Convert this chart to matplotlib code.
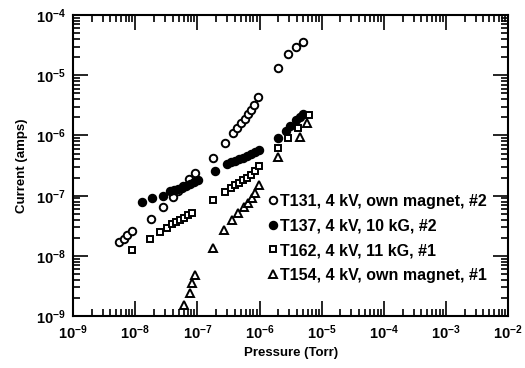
import numpy as np
import matplotlib
matplotlib.use("Agg")
import matplotlib.pyplot as plt
from matplotlib.ticker import LogLocator, FuncFormatter, NullFormatter

plt.rcParams['font.family'] = ['Liberation Sans', 'DejaVu Sans']
plt.rcParams['mathtext.fontset'] = 'custom'
plt.rcParams['mathtext.rm'] = 'Liberation Sans'
plt.rcParams['mathtext.bf'] = 'Liberation Sans:bold'

# T131, 4 kV, own magnet, #2 (open circles)
p131 = [5.6e-9, 6.5e-9, 7.5e-9, 9.0e-9, 1.78e-8, 2.84e-8, 4.1e-8, 4.9e-8, 5.9e-8,
        7.4e-8, 9.2e-8, 1.82e-7, 2.8e-7, 3.7e-7, 4.4e-7, 5.1e-7, 5.9e-7, 6.6e-7,
        7.3e-7, 8.2e-7, 9.6e-7, 2.0e-6, 2.9e-6, 3.8e-6, 5.1e-6]
i131 = [1.71e-8, 1.88e-8, 2.19e-8, 2.58e-8, 4.1e-8, 6.5e-8, 9.6e-8, 1.19e-7, 1.44e-7,
        1.89e-7, 2.37e-7, 4.3e-7, 7.6e-7, 1.11e-6, 1.31e-6, 1.63e-6, 1.87e-6, 2.24e-6,
        2.64e-6, 3.2e-6, 4.4e-6, 1.3e-5, 2.3e-5, 3.0e-5, 3.6e-5]

# T137, 4 kV, 10 kG, #2 (filled circles)
p137 = [1.31e-8, 1.85e-8, 2.76e-8, 3.65e-8, 4.2e-8, 4.9e-8, 5.7e-8, 6.6e-8, 7.7e-8,
        8.9e-8, 1.03e-7, 1.94e-7, 3.0e-7, 3.5e-7, 4.1e-7, 4.7e-7, 5.5e-7, 6.3e-7,
        7.4e-7, 8.5e-7, 9.7e-7, 1.95e-6, 2.7e-6, 3.1e-6, 3.8e-6, 4.4e-6, 5.1e-6]
i137 = [7.9e-8, 9.1e-8, 9.7e-8, 1.19e-7, 1.24e-7, 1.29e-7, 1.36e-7, 1.44e-7, 1.56e-7,
        1.68e-7, 1.82e-7, 2.6e-7, 3.4e-7, 3.6e-7, 3.8e-7, 4.1e-7, 4.3e-7, 4.6e-7,
        4.9e-7, 5.3e-7, 5.7e-7, 9.0e-7, 1.2e-6, 1.45e-6, 1.8e-6, 2.05e-6, 2.3e-6]

# T162, 4 kV, 11 kG, #1 (open squares)
p162 = [8.8e-9, 1.74e-8, 2.52e-8, 3.3e-8, 3.9e-8, 4.6e-8, 5.3e-8, 6.1e-8, 7.1e-8,
        8.2e-8, 1.76e-7, 2.75e-7, 3.5e-7, 4.1e-7, 4.7e-7, 5.5e-7, 6.3e-7, 7.4e-7,
        8.5e-7, 9.7e-7, 1.95e-6, 2.9e-6, 4.2e-6, 6.3e-6]
i162 = [1.25e-8, 1.88e-8, 2.45e-8, 2.86e-8, 3.4e-8, 3.6e-8, 3.9e-8, 4.25e-8, 4.8e-8,
        5.1e-8, 8.5e-8, 1.15e-7, 1.36e-7, 1.5e-7, 1.65e-7, 1.82e-7, 2.0e-7, 2.24e-7,
        2.56e-7, 3.1e-7, 6.1e-7, 9.0e-7, 1.33e-6, 2.2e-6]

# T154, 4 kV, own magnet, #1 (open triangles)
p154 = [6.1e-8, 7.7e-8, 8.3e-8, 9.2e-8, 1.82e-7, 2.65e-7, 3.6e-7, 4.5e-7, 5.7e-7,
        6.6e-7, 7.5e-7, 8.5e-7, 9.9e-7, 2.0e-6, 4.5e-6, 5.8e-6]
i154 = [1.52e-9, 2.44e-9, 3.5e-9, 4.9e-9, 1.37e-8, 2.74e-8, 3.9e-8, 5.1e-8, 6.4e-8,
        7.6e-8, 9.2e-8, 1.12e-7, 1.5e-7, 4.4e-7, 9.5e-7, 1.59e-6]

labels = ['T131, 4 kV, own magnet, #2', 'T137, 4 kV, 10 kG, #2',
          'T162, 4 kV, 11 kG, #1', 'T154, 4 kV, own magnet, #1']

fig = plt.figure(figsize=(5.25, 3.68), dpi=100)
ax = fig.add_axes([0.139, 0.141, 0.829, 0.818])

ms = 5.4
ax.plot(p131, i131, 'o', ms=ms, mfc='white', mec='black', mew=1.4, label=labels[0])
ax.plot(p137, i137, 'o', ms=ms, mfc='black', mec='black', mew=1.4, label=labels[1])
ax.plot(p162, i162, 's', ms=ms - 0.4, mfc='white', mec='black', mew=1.4, label=labels[2])
ax.plot(p154, i154, '^', ms=ms, mfc='white', mec='black', mew=1.4, label=labels[3])

ax.set_xscale('log')
ax.set_yscale('log')
ax.set_xlim(1e-9, 1e-2)
ax.set_ylim(1e-9, 1e-4)

fmt = FuncFormatter(lambda v, pos: r'$\mathbf{10^{%d}}$' % int(round(np.log10(v))))
ax.xaxis.set_major_locator(LogLocator(base=10, numticks=20))
ax.yaxis.set_major_locator(LogLocator(base=10, numticks=20))
ax.xaxis.set_minor_locator(LogLocator(base=10, subs=np.arange(2, 10), numticks=20))
ax.yaxis.set_minor_locator(LogLocator(base=10, subs=np.arange(2, 10), numticks=20))
ax.xaxis.set_major_formatter(fmt)
ax.yaxis.set_major_formatter(fmt)
ax.xaxis.set_minor_formatter(NullFormatter())
ax.yaxis.set_minor_formatter(NullFormatter())
ax.tick_params(which='both', direction='in', top=True, right=True, width=1.2, labelsize=10.5)
ax.tick_params(which='major', length=11, pad=5)
ax.tick_params(which='minor', length=5)
for s in ax.spines.values():
    s.set_linewidth(1.5)

ax.set_xlabel('Pressure (Torr)', fontsize=9.5, fontweight='bold', labelpad=4)
ax.set_ylabel('Current (amps)', fontsize=9.5, fontweight='bold', labelpad=6)

ax.legend(loc='lower right', bbox_to_anchor=(0.965, 0.09), frameon=False,
          borderaxespad=0, handletextpad=0.1, handlelength=0.7, labelspacing=0.6,
          prop={'weight': 'bold', 'size': 11.5})

fig.savefig('out.png', dpi=100)
